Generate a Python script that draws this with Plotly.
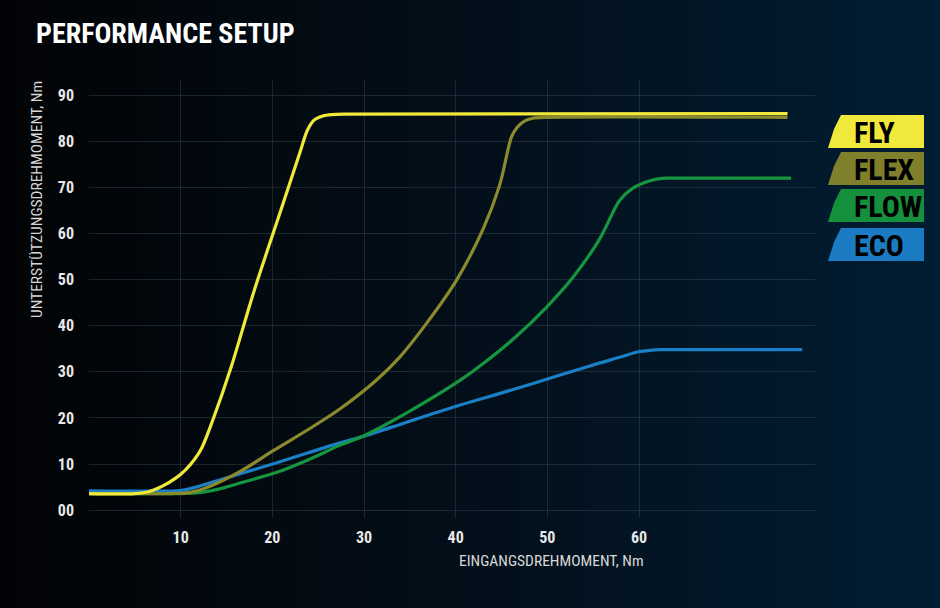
import plotly.graph_objects as go

# ---------------- data ----------------
series_names = ["ECO", "FLOW", "FLEX", "FLY"]
series_colors = ["#1b7fc6", "#16963f", "#8b8b2e", "#f0e83a"]

x_fly = [0, 5, 6.5, 8, 9.5, 10.5, 11.5, 12.3, 13.5, 15.5, 18, 20.5, 23, 23.8, 24.5, 25.5, 26.5, 28, 76.2]
y_fly = [3.6, 3.6, 4.0, 5.2, 7.0, 8.7, 11.0, 13.5, 19.5, 31, 47.5, 62.5, 77.5, 82.3, 84.5, 85.5, 85.8, 85.9, 86]

x_flex = [0, 9, 11, 13, 16.5, 20.1, 24, 27.4, 31.4, 33.9, 37, 40.1, 43, 44.8, 46.1, 46.7, 47.5, 48.4, 50, 76.2]
y_flex = [3.6, 3.6, 3.8, 5.0, 8.4, 12.9, 17.6, 22.0, 28.3, 33.2, 41, 49.9, 61.0, 70.5, 81.0, 83, 84.4, 85, 85.2, 85.2]

x_flow = [0, 10, 12, 14, 16.5, 20.5, 24, 27.4, 29.6, 35, 40.5, 43, 46.5, 49.9, 52.8, 55.7, 57.9, 59.3, 61.5, 63, 65, 76.6]
y_flow = [3.6, 3.6, 3.8, 4.5, 5.9, 8.2, 11.0, 14.1, 15.8, 21.5, 28.2, 31.8, 37.5, 44, 50.5, 58.8, 67.2, 69.8, 71.6, 72, 72, 72]

x_eco = [0, 9.5, 10.5, 12, 16.5, 20.5, 24, 27.4, 29.6, 35, 40.5, 46, 51.4, 55, 58, 59.8, 61, 62.3, 64, 77.8]
y_eco = [4.2, 4.2, 4.4, 5.2, 7.9, 10.3, 12.5, 14.6, 15.8, 19.3, 22.8, 26.0, 29.3, 31.5, 33.2, 34.3, 34.6, 34.8, 34.8, 34.8]

x_ticks = [0, 10, 20, 30, 40, 50, 60]
x_ticktext = ["", "10", "20", "30", "40", "50", "60"]
y_ticks = [0, 10, 20, 30, 40, 50, 60, 70, 80, 90]
y_ticktext = ["00", "10", "20", "30", "40", "50", "60", "70", "80", "90"]

title_text = "PERFORMANCE SETUP"
x_title = "EINGANGSDREHMOMENT, Nm"
y_title = "UNTERSTÜTZUNGSDREHMOMENT, Nm"
legend_labels = ["FLY", "FLEX", "FLOW", "ECO"]
legend_colors = ["#f0e83a", "#7f7f2c", "#15903c", "#1b7cc4"]

# ---------------- layout geometry (pixels) ----------------
W, H = 940, 608
L, R, T, B = 89, 815, 80, 518
PW, PH = R - L, B - T


def px(xp):
    return (xp - L) / PW


def py(yp):
    return (B - yp) / PH


COND = "Roboto Condensed, Noto Sans Condensed, Liberation Sans Narrow, Roboto, sans-serif"

fig = go.Figure()
xs = [x_eco, x_flow, x_flex, x_fly]
ys = [y_eco, y_flow, y_flex, y_fly]
for name, color, xv, yv in zip(series_names, series_colors, xs, ys):
    fig.add_trace(go.Scatter(x=xv, y=yv, mode="lines", name=name,
                             line=dict(color=color, width=3.2, shape="spline", smoothing=0.85),
                             hoverinfo="skip", showlegend=False))

shapes = []
# background gradient (vertical strips)
stops = [(0, (2, 3, 5)), (470, (3, 15, 26)), (940, (2, 29, 51))]


def col_at(p):
    for (a, ca), (b, cb) in zip(stops[:-1], stops[1:]):
        if a <= p <= b:
            t = (p - a) / (b - a)
            return tuple(int(round(ca[i] + (cb[i] - ca[i]) * t)) for i in range(3))
    return stops[-1][1]


n = 94
for i in range(n):
    x0 = i * W / n
    x1 = (i + 1) * W / n + 0.6
    c = col_at((x0 + x1) / 2)
    shapes.append(dict(type="rect", xref="paper", yref="paper", layer="below",
                       x0=px(x0), x1=px(x1), y0=py(H + 2), y1=py(-2),
                       fillcolor="rgb(%d,%d,%d)" % c, line=dict(width=0)))

# legend tags
tag_tops = [115, 152, 189, 228]
tag_h = 33
annotations = []
for lab, colr, top in zip(legend_labels, legend_colors, tag_tops):
    bot = top + tag_h
    path = "M {} {} L {} {} L {} {} L {} {} L {} {} Z".format(
        px(841), py(top), px(924), py(top), px(924), py(bot), px(828), py(bot), px(834), py(top + 14))
    shapes.append(dict(type="path", xref="paper", yref="paper", path=path,
                       fillcolor=colr, line=dict(width=0), layer="above"))
    annotations.append(dict(text="<b>%s</b>" % lab, x=px(852), y=py(top + tag_h / 2 + 1),
                            xref="paper", yref="paper", xanchor="left", yanchor="middle",
                            showarrow=False, font=dict(family=COND, size=30, color="#000000")))

annotations.append(dict(text="<b>%s</b>" % title_text, x=px(34), y=py(33), xref="paper", yref="paper",
                        xanchor="left", yanchor="middle", showarrow=False,
                        font=dict(family=COND, size=28, color="#ffffff")))
annotations.append(dict(text=x_title, x=px(646), y=py(561), xref="paper", yref="paper",
                        xanchor="right", yanchor="middle", showarrow=False,
                        font=dict(family=COND, size=15.5, color="#d8d8d8")))
annotations.append(dict(text=y_title, x=px(37), y=py(200), xref="paper", yref="paper",
                        xanchor="center", yanchor="middle", textangle=-90, showarrow=False,
                        font=dict(family=COND, size=15.5, color="#d8d8d8")))

fig.update_layout(
    width=W, height=H,
    margin=dict(l=L, r=W - R, t=T, b=H - B),
    paper_bgcolor="#03070b", plot_bgcolor="rgba(0,0,0,0)",
    shapes=shapes, annotations=annotations,
    xaxis=dict(range=[0, 79.2], tickvals=x_ticks, ticktext=x_ticktext, showgrid=True,
               gridcolor="rgba(120,135,150,0.22)", gridwidth=1, zeroline=False, showline=False,
               ticks="", tickfont=dict(family=COND, size=16, color="#e8e8e8"),
               ticklabelstandoff=8),
    yaxis=dict(range=[-1.7, 93.3], tickvals=y_ticks, ticktext=y_ticktext, showgrid=True,
               gridcolor="rgba(120,135,150,0.22)", gridwidth=1, zeroline=False, showline=False,
               ticks="", tickfont=dict(family=COND, size=16, color="#e8e8e8"),
               ticklabelstandoff=14),
)
fig.update_xaxes(tickfont_weight="bold")
fig.update_yaxes(tickfont_weight="bold")

fig.write_html("out.html", config={"displayModeBar": False},
               post_script="document.body.style.margin='0';document.body.style.background='#03070b';")
